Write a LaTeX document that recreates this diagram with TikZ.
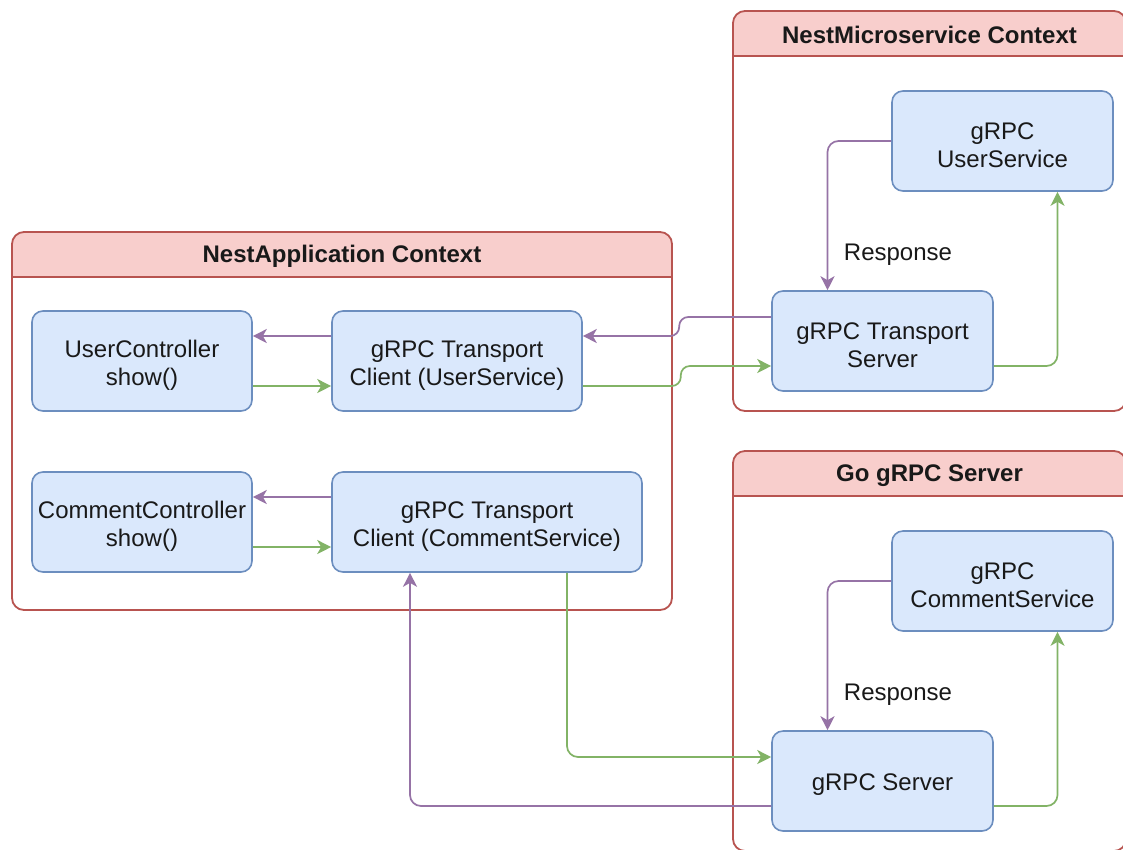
\documentclass[tikz,border=0pt]{standalone}
\usepackage{fontspec}
\setmainfont{Liberation Sans}
\usetikzlibrary{arrows.meta}
\definecolor{boxfill}{HTML}{DAE8FC}
\definecolor{boxline}{HTML}{6C8EBF}
\definecolor{ctxfill}{HTML}{F8CECC}
\definecolor{ctxline}{HTML}{B85450}
\definecolor{reqline}{HTML}{82B366}
\definecolor{resline}{HTML}{9673A6}

\begin{document}
\begin{tikzpicture}[x=1pt, y=-1pt, >={Stealth[length=14pt, width=14pt, inset=4pt]},
		every node/.style={font=\fontsize{24}{28}\selectfont, text=black!90, execute at begin node={\rule{0pt}{23pt}}},
		ctx/.style={draw=ctxline, fill=white, line width=1.8pt, rounded corners=12pt,
			path picture={
				\fill[ctxfill, sharp corners] (path picture bounding box.north west) rectangle ([yshift=-45pt]path picture bounding box.north east);
				\draw[ctxline, line width=1.8pt, sharp corners] ([yshift=-45pt]path picture bounding box.north west) -- ([yshift=-45pt]path picture bounding box.north east);
			}},
		ctxtitle/.style={font=\fontsize{24}{28}\selectfont\bfseries},
		box/.style={draw=boxline, fill=boxfill, line width=1.6pt, rounded corners=11pt, minimum width=220pt, minimum height=100pt, align=center},
		twobox/.style={box, execute at begin node={\rule{0pt}{53pt}}},
		req/.style={->, draw=reqline, line width=1.7pt, rounded corners=11pt},
		res/.style={->, draw=resline, line width=1.7pt, rounded corners=11pt}]
	% 0. 画布
	\useasboundingbox (0,0) rectangle (1123,849);
	\clip (0,0) rectangle (1123,849);
	\fill[white] (0,0) rectangle (1123,849);
	
	% 1. 三个容器
	\node[ctx, minimum width=660pt, minimum height=378pt] (appctx) at (342,421) {};
	\node[ctx, minimum width=393pt, minimum height=400pt] (microctx) at (929.5,211) {};
	\node[ctx, minimum width=393pt, minimum height=400pt] (goctx) at (929.5,651) {};
	\node[ctxtitle] (apptitle) at ([yshift=-22.5pt]appctx.north) {NestApplication Context};
	\node[ctxtitle] (microtitle) at ([yshift=-22.5pt]microctx.north) {NestMicroservice Context};
	\node[ctxtitle] (gotitle) at ([yshift=-22.5pt]goctx.north) {Go gRPC Server};
	
	% 2. 应用内的控制器与客户端
	\node[twobox] (userctl) at (142,361) {UserController\\show()};
	\node[twobox, minimum width=250pt] (userclient) at (457,361) {gRPC Transport\\Client (UserService)};
	\node[twobox] (commentctl) at (142,522) {CommentController\\show()};
	\node[twobox, minimum width=310pt] (commentclient) at (487,522) {gRPC Transport\\Client (CommentService)};
	
	% 3. 服务端
	\node[twobox, minimum width=221pt] (usersvc) at (1002.5,141) {gRPC\\UserService};
	\node[twobox, minimum width=221pt] (transportsrv) at (882.5,341) {gRPC Transport\\Server};
	\node[twobox, minimum width=221pt] (commentsvc) at (1002.5,581) {gRPC\\CommentService};
	\node[box, minimum width=221pt] (grpcsrv) at (882.5,781) {gRPC Server};
	\node (resp1) at (898,251) {Response};
	\node (resp2) at (898,691) {Response};
	
	% 4. 控制器 <-> 客户端
	\draw[res] ([yshift=25pt]userclient.west) -- ([yshift=25pt]userctl.east);
	\draw[req] ([yshift=-25pt]userctl.east) -- ([yshift=-25pt]userclient.west);
	\draw[res] ([yshift=25pt]commentclient.west) -- ([yshift=25pt]commentctl.east);
	\draw[req] ([yshift=-25pt]commentctl.east) -- ([yshift=-25pt]commentclient.west);
	
	% 5. 客户端 <-> 传输服务端 (跨容器)
	\draw[res, rounded corners=9pt] ([yshift=24pt]transportsrv.west) -- ++(-92,0) -- ++(0,19) -- ([yshift=25pt]userclient.east);
	\draw[req, rounded corners=9pt] ([yshift=-25pt]userclient.east) -- ++(98,0) -- ++(0,-20) -- ([yshift=-25pt]transportsrv.west);
	\draw[req] ([xshift=80pt]commentclient.south) |- ([yshift=24pt]grpcsrv.west);
	\draw[res] ([yshift=-25pt]grpcsrv.west) -| ([xshift=-77pt]commentclient.south);
	
	% 6. 服务端内部
	\draw[res] (usersvc.west) -| ([xshift=-55pt]transportsrv.north);
	\draw[req] ([yshift=-25pt]transportsrv.east) -| ([xshift=55pt]usersvc.south);
	\draw[res] (commentsvc.west) -| ([xshift=-55pt]grpcsrv.north);
	\draw[req] ([yshift=-25pt]grpcsrv.east) -| ([xshift=55pt]commentsvc.south);
\end{tikzpicture}
\end{document}
